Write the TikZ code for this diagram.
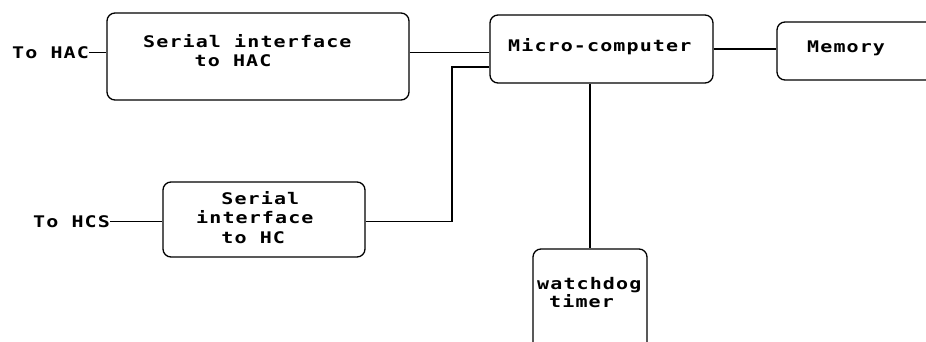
\documentclass[tikz,border=0pt]{standalone}
\usepackage{fontspec}
\newfontfamily\dfont{DejaVu Sans Mono}[FakeStretch=1.25,LetterSpace=7]
\begin{document}
\begin{tikzpicture}[x=1pt,y=-1pt,
  box/.style={draw, line width=1.3pt, rounded corners=8pt, inner sep=0pt},
  txt/.style={font=\dfont\bfseries\fontsize{16}{19.5}\selectfont, inner sep=0pt, align=left, anchor=base west},
  wire/.style={line width=1.2pt}]
\useasboundingbox (0,0) rectangle (926,342);
\clip (0,0) rectangle (926,342);
% boxes
\node[box, minimum width=302pt, minimum height=87pt] (b1) at (258,56.5) {};
\node[box, minimum width=223pt, minimum height=68pt] (mc) at (601.5,49) {};
\node[box, minimum width=183pt, minimum height=58pt] (mem) at (868.5,51) {};
\node[box, minimum width=202pt, minimum height=75pt] (b3) at (264,219.5) {};
\node[box, minimum width=114pt, minimum height=131pt] (wd) at (590,314.5) {};
% texts (anchored at the baseline of the last line)
\node[txt] (t1) at (143,67) {Serial interface\\\hphantom{abcd}to HAC};
\node[txt] (tmc) at (508,52) {Micro-computer};
\node[txt] (tmem) at (807,53) {Memory};
\node[txt] (t3) at (196,243) {\hphantom{ab}Serial\\interface\\\hphantom{ab}to HC};
\node[txt, font=\dfont\bfseries\fontsize{16}{16}\selectfont] (twd) at (537,307) {watchdog\\\hphantom{a}timer};
\node[txt] (hac) at (12,58.5) {To HAC};
\node[txt] (hcs) at (33,227) {To HCS};
\coordinate (j1) at (452,67);
% connectors
\draw[wire] (hac.east) -- (hac.east -| b1.west);
\draw[wire] (b1.east |- hac.east) -- (mc.west |- hac.east);
\draw[wire] (hcs.east) -- (hcs.east -| b3.west);
\draw[wire] (b3.east |- hcs.east) -| (j1) -- (mc.west |- j1);
\draw[wire] (mc.east) -- (mc.east -| mem.west);
\draw[wire] (wd.north |- mc.south) -- (wd.north);
\end{tikzpicture}
\end{document}
